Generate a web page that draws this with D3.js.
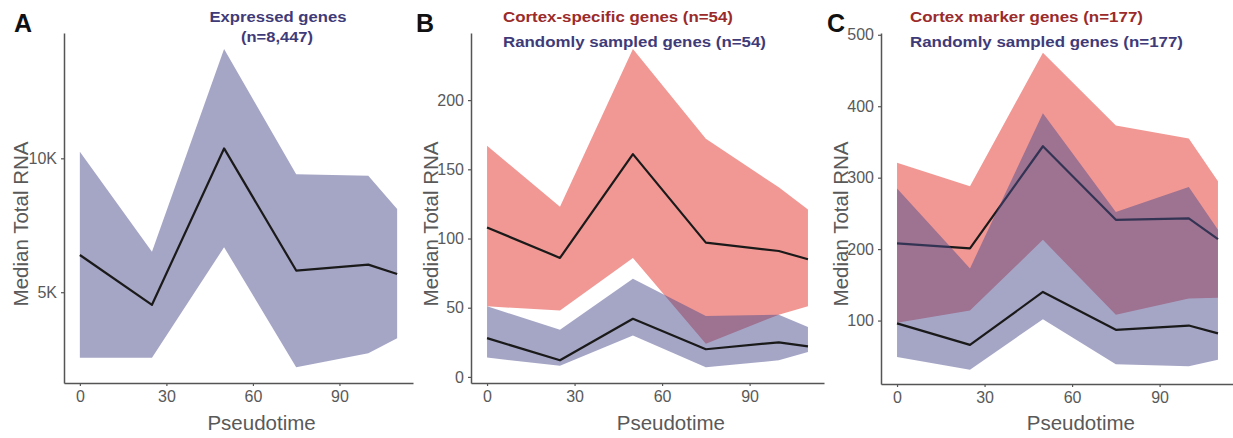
<!DOCTYPE html>
<html>
<head>
<meta charset="utf-8">
<script src="https://cdn.jsdelivr.net/npm/d3@7"></script>
<style>
  html, body { margin: 0; padding: 0; background: #fff; }
  svg { display: block; font-family: "Liberation Sans", Arial, Helvetica, sans-serif; }
</style>
</head>
<body>
<svg id="chart" width="1233" height="438"></svg>
<script>
// ---------- data ----------
const pseudotime = [0, 25, 50, 75, 100, 110];

// Panel A: expressed genes
const exprMedian = [6390, 4530, 10370, 5810, 6030, 5680];
const exprUpper  = [10250, 6510, 14080, 9410, 9350, 8110];
const exprLower  = [2550, 2550, 6680, 2200, 2720, 3280];

// Panel B: cortex-specific genes vs random
const specMedian = [108, 86, 161, 97, 91, 85];
const specUpper  = [167, 123, 237, 172, 137, 121];
const specLower  = [51, 48, 86, 24, 45, 51];
const randBMedian = [28, 12, 42, 20, 25, 22];
const randBUpper  = [51, 34, 71, 44, 45, 36];
const randBLower  = [14, 8, 30, 7, 12, 18];

// Panel C: cortex marker genes vs random
const markMedian = [208, 201, 344, 241, 243, 214];
const markUpper  = [321, 288, 475, 373, 355, 295];
const markLower  = [97, 114, 213, 108, 131, 132];
const randCMedian = [96, 66, 140, 87, 93, 82];
const randCUpper  = [285, 173, 390, 252, 287, 227];
const randCLower  = [49, 31, 102, 39, 36, 45];

const xTicks = [0, 30, 60, 90];
const yTicksA = [5000, 10000];
const yTickLabelsA = ["5K", "10K"];
const yTicksB = [0, 50, 100, 150, 200];
const yTicksC = [100, 200, 300, 400, 500];

// ---------- styles ----------
const RED_FILL = "#f19894";
const BLUE_FILL = "#4b4b8d";
const BLUE_ALPHA = 0.5;
const RED_TEXT = "#9b2b2b";
const BLUE_TEXT = "#3f3b78";
const AXIS_COL = "#555555";
const TICK_TEXT = "#595959";

const svg = d3.select("#chart");

function series(med, up, lo) {
  return pseudotime.map((t, i) => ({ t, m: med[i], u: up[i], l: lo[i] }));
}

function panel(cfg) {
  const g = svg.append("g");
  const x = d3.scaleLinear().domain([-5.5, 115.5]).range(cfg.xRange);
  const y = d3.scaleLinear().domain(cfg.yDomain).range([cfg.bottom, 33]);

  const area = d3.area().x(d => x(d.t)).y0(d => y(d.l)).y1(d => y(d.u));
  const line = d3.line().x(d => x(d.t)).y(d => y(d.m));

  cfg.layers.forEach(L => {
    g.append("path").datum(L.data).attr("d", area)
      .attr("fill", L.fill).attr("fill-opacity", L.alpha);
    g.append("path").datum(L.data).attr("d", line)
      .attr("fill", "none").attr("stroke", "#1a1a1a").attr("stroke-width", 2.2)
      .attr("stroke-linejoin", "round");
  });

  // axes
  const xAxis = d3.axisBottom(x).tickValues(xTicks).tickSize(3).tickPadding(5).tickSizeOuter(0);
  const gx = g.append("g").attr("transform", `translate(0,${cfg.bottom})`).call(xAxis);
  const yAxis = d3.axisLeft(y).tickValues(cfg.yTicks).tickSize(3).tickPadding(4).tickSizeOuter(0);
  if (cfg.yLabels) yAxis.tickFormat((d, i) => cfg.yLabels[i]);
  const gy = g.append("g").attr("transform", `translate(${cfg.xRange[0]},0)`).call(yAxis);

  [gx, gy].forEach(ax => {
    ax.select(".domain").attr("stroke", AXIS_COL).attr("stroke-width", 1.5);
    ax.selectAll(".tick line").attr("stroke", AXIS_COL).attr("stroke-width", 1.2);
    ax.selectAll(".tick text").attr("fill", TICK_TEXT)
      .style("font-size", "16px").style("font-family", '"Liberation Sans", Arial, sans-serif');
  });

  // axis titles
  g.append("text").attr("x", x(63)).attr("y", 430)
    .attr("text-anchor", "middle").attr("fill", TICK_TEXT)
    .style("font-size", "20.5px").text("Pseudotime");
  g.append("text")
    .attr("transform", `translate(${cfg.yTitleX},224) rotate(-90)`)
    .attr("text-anchor", "middle").attr("fill", TICK_TEXT)
    .style("font-size", "20.5px").text("Median Total RNA");

  // panel letter
  g.append("text").attr("x", cfg.letterX).attr("y", 32)
    .attr("fill", "#111").style("font-size", "25px").style("font-weight", "bold")
    .text(cfg.letter);

  // titles
  cfg.titles.forEach(tt => {
    g.append("text").attr("x", tt.x).attr("y", tt.y)
      .attr("text-anchor", tt.anchor || "start")
      .attr("fill", tt.color).style("font-size", "14.5px").style("font-weight", "bold")
      .attr("textLength", tt.w).attr("lengthAdjust", "spacingAndGlyphs")
      .text(tt.text);
  });
}

panel({
  letter: "A", letterX: 14,
  xRange: [64, 413], bottom: 383,
  yDomain: [1610, 14680], yTicks: yTicksA, yLabels: yTickLabelsA,
  yTitleX: 28,
  layers: [{ data: series(exprMedian, exprUpper, exprLower), fill: BLUE_FILL, alpha: BLUE_ALPHA }],
  titles: [
    { text: "Expressed genes", x: 278, y: 21.5, anchor: "middle", color: BLUE_TEXT, w: 137 },
    { text: "(n=8,447)", x: 277, y: 41.5, anchor: "middle", color: BLUE_TEXT, w: 72 }
  ]
});

panel({
  letter: "B", letterX: 416,
  xRange: [471, 824], bottom: 383,
  yDomain: [-4.4, 248.5], yTicks: yTicksB,
  yTitleX: 437.5,
  layers: [
    { data: series(specMedian, specUpper, specLower), fill: RED_FILL, alpha: 1 },
    { data: series(randBMedian, randBUpper, randBLower), fill: BLUE_FILL, alpha: BLUE_ALPHA }
  ],
  titles: [
    { text: "Cortex-specific genes (n=54)", x: 503, y: 21.5, color: RED_TEXT, w: 230 },
    { text: "Randomly sampled genes (n=54)", x: 503, y: 46.5, color: BLUE_TEXT, w: 263 }
  ]
});

panel({
  letter: "C", letterX: 827,
  xRange: [881, 1234], bottom: 384,
  yDomain: [11.2, 502.5], yTicks: yTicksC,
  yTitleX: 848,
  layers: [
    { data: series(markMedian, markUpper, markLower), fill: RED_FILL, alpha: 1 },
    { data: series(randCMedian, randCUpper, randCLower), fill: BLUE_FILL, alpha: BLUE_ALPHA }
  ],
  titles: [
    { text: "Cortex marker genes (n=177)", x: 910, y: 21.5, color: RED_TEXT, w: 233 },
    { text: "Randomly sampled genes (n=177)", x: 910, y: 46.5, color: BLUE_TEXT, w: 273 }
  ]
});
</script>
</body>
</html>
